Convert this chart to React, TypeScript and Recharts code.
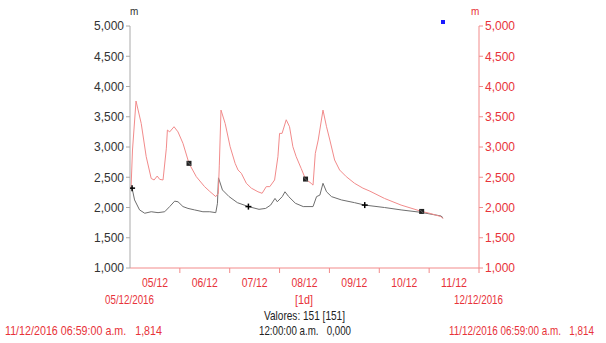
import React from 'react';
import { LineChart, Line, XAxis, YAxis } from 'recharts';

// hours since 05/12/2016 00:00, values in m
const blackHours = [1, 2.2, 4.6, 7.1, 10.2, 13.5, 16.7, 19.1, 21.5, 23.1, 25.5, 27.9, 31.1, 35.1, 38.4, 41.3, 42.1, 42.6, 44.5, 47.7, 51.7, 57, 62.1, 65.3, 67.7, 69.8, 70.9, 73.3, 74.6, 76.4, 79.6, 83.4, 88.1, 89.8, 91.4, 92.9, 94.6, 97, 101.8, 108.1, 113, 122.5, 130.5, 140.1, 149.7, 150.7];
const blackValues = [2320, 2125, 1960, 1905, 1930, 1915, 1930, 2015, 2105, 2095, 2015, 1985, 1960, 1930, 1930, 1915, 2070, 2490, 2290, 2180, 2080, 2015, 1970, 1985, 2040, 2150, 2095, 2180, 2260, 2180, 2070, 2015, 2015, 2180, 2205, 2400, 2260, 2180, 2125, 2080, 2040, 2000, 1960, 1920, 1860, 1830];
const redHours = [0.5, 1.2, 2.9, 5.4, 7.8, 10.2, 11.6, 13.1, 14.3, 15.9, 17.5, 18, 19.1, 21.2, 23.1, 25.5, 28.4, 31.9, 35.9, 38.4, 41.3, 42.5, 43, 43.8, 45.8, 48.2, 50.6, 52, 53.6, 56, 58.4, 61.6, 63.6, 65.6, 67.3, 69.6, 71.2, 72, 73.2, 75.2, 76.8, 78.4, 80, 82.4, 84.5, 87.2, 88.1, 89.2, 90.6, 92.9, 94.6, 96.2, 98.5, 100.9, 104.1, 108.1, 112.1, 115.5, 122.5, 130.5, 140.4, 144.1, 149.7, 150.7];
const redValues = [2320, 2950, 3760, 3390, 2840, 2480, 2455, 2520, 2465, 2455, 2980, 3280, 3250, 3335, 3250, 3060, 2730, 2510, 2345, 2265, 2180, 2235, 2700, 3610, 3390, 3005, 2730, 2620, 2565, 2400, 2320, 2260, 2235, 2345, 2345, 2455, 2840, 3225, 3225, 3450, 3335, 3005, 2840, 2645, 2470, 2400, 2370, 2895, 3115, 3610, 3335, 3115, 2785, 2620, 2510, 2400, 2320, 2270, 2150, 2040, 1935, 1905, 1850, 1814];
const blackMarks = [1, 57, 113];
const redMarks = [28.4, 84.5, 140.4];

const dayTicks = [24, 48, 72, 96, 120, 144, 168];
const dayLabels = ['05/12', '06/12', '07/12', '08/12', '09/12', '10/12', '11/12'];
const yTicks = [1000, 1500, 2000, 2500, 3000, 3500, 4000, 4500, 5000];

const blackData = blackHours.map((h, i) => ({ h, v: blackValues[i], mark: blackMarks.includes(h) }));
const redData = redHours.map((h, i) => ({ h, v: redValues[i], mark: redMarks.includes(h) }));

const RED = '#e8333a';
const LINE_RED = '#f28b8b';
const DAY_PX = 349 / 7;
const SANS = "'Liberation Sans', Arial, sans-serif";
const SQ = 0.82;

const fmt = (v: number) => v.toLocaleString('en-US');

// the reference text is horizontally squeezed
const Squeezed = ({ x, y, w, anchor = 'start', fill, children }: any) => (
  <g transform={`translate(${x} ${y}) scale(${SQ} 1)`}>
    <text
      x={0}
      y={0}
      textAnchor={anchor}
      fontSize={12}
      fill={fill}
      fontFamily={SANS}
      textLength={w / SQ}
      lengthAdjust="spacingAndGlyphs"
      style={{ whiteSpace: 'pre' }}
    >
      {children}
    </text>
  </g>
);

const DayTick = (props: any) => {
  const { x, index } = props;
  return (
    <Squeezed x={x - DAY_PX / 2} y={287} w={26} anchor="middle" fill={RED}>
      {dayLabels[index]}
    </Squeezed>
  );
};

const BlackDot = (props: any) => {
  const { cx, cy, payload, index } = props;
  if (!payload.mark) return <g key={'b' + index} />;
  return (
    <g key={'b' + index} stroke="#000" strokeWidth={1.5}>
      <line x1={cx - 3} y1={cy} x2={cx + 3} y2={cy} />
      <line x1={cx} y1={cy - 3} x2={cx} y2={cy + 3} />
    </g>
  );
};

const RedDot = (props: any) => {
  const { cx, cy, payload, index } = props;
  if (!payload.mark) return <g key={'r' + index} />;
  return (
    <g key={'r' + index}>
      <rect x={cx - 2.5} y={cy - 2.5} width={5} height={5} fill="#222" />
      <line x1={cx - 2} y1={cy - 2} x2={cx + 2} y2={cy + 2} stroke="#777" strokeWidth={0.8} />
    </g>
  );
};

export default function App() {
  return (
    <div style={{ position: 'relative', width: 606, height: 343, background: '#fff' }}>
      <style>{`body{margin:0}`}</style>
      <LineChart width={606} height={343} margin={{ top: 26, right: 67, bottom: 45, left: 70 }}>
        <XAxis
          xAxisId="t"
          dataKey="h"
          type="number"
          domain={[0, 168]}
          ticks={dayTicks}
          tick={<DayTick />}
          stroke={LINE_RED}
          tickSize={5}
          height={30}
          allowDataOverflow
        />
        <YAxis
          yAxisId="l"
          domain={[1000, 5000]}
          ticks={yTicks}
          tickFormatter={fmt}
          width={60}
          stroke="#aaa"
          tickSize={4}
          tick={{ fill: '#333', fontSize: 12, fontFamily: SANS }}
        />
        <YAxis
          yAxisId="r"
          orientation="right"
          domain={[1000, 5000]}
          ticks={yTicks}
          tickFormatter={fmt}
          width={60}
          stroke={LINE_RED}
          tickSize={4}
          tick={{ fill: RED, fontSize: 12, fontFamily: SANS }}
        />
        <Line
          xAxisId="t"
          yAxisId="l"
          data={blackData}
          dataKey="v"
          type="linear"
          stroke="#6e6e6e"
          strokeWidth={1}
          dot={<BlackDot />}
          activeDot={false}
          isAnimationActive={false}
        />
        <Line
          xAxisId="t"
          yAxisId="r"
          data={redData}
          dataKey="v"
          type="linear"
          stroke={LINE_RED}
          strokeWidth={1}
          dot={<RedDot />}
          activeDot={false}
          isAnimationActive={false}
        />
      </LineChart>
      <svg width={606} height={343} style={{ position: 'absolute', left: 0, top: 0, pointerEvents: 'none' }}>
        <text x={130} y={15} fontSize={10} fill="#333" fontFamily={SANS}>m</text>
        <text x={471} y={15} fontSize={10} fill={RED} fontFamily={SANS}>m</text>
        <rect x={441} y={20} width={4} height={4} fill="#1a1aff" />
        <Squeezed x={105} y={304} w={49} fill={RED}>05/12/2016</Squeezed>
        <Squeezed x={295} y={304} w={18} fill={RED}>[1d]</Squeezed>
        <Squeezed x={454} y={304} w={49} fill={RED}>12/12/2016</Squeezed>
        <Squeezed x={264} y={320} w={81} fill="#222">Valores: 151 [151]</Squeezed>
        <Squeezed x={259} y={335} w={92} fill="#222">{'12:00:00 a.m.   0,000'}</Squeezed>
        <Squeezed x={5} y={335} w={157} fill={RED}>{'11/12/2016 06:59:00 a.m.   1,814'}</Squeezed>
        <Squeezed x={449} y={335} w={145} fill={RED}>{'11/12/2016 06:59:00 a.m.   1,814'}</Squeezed>
      </svg>
    </div>
  );
}
